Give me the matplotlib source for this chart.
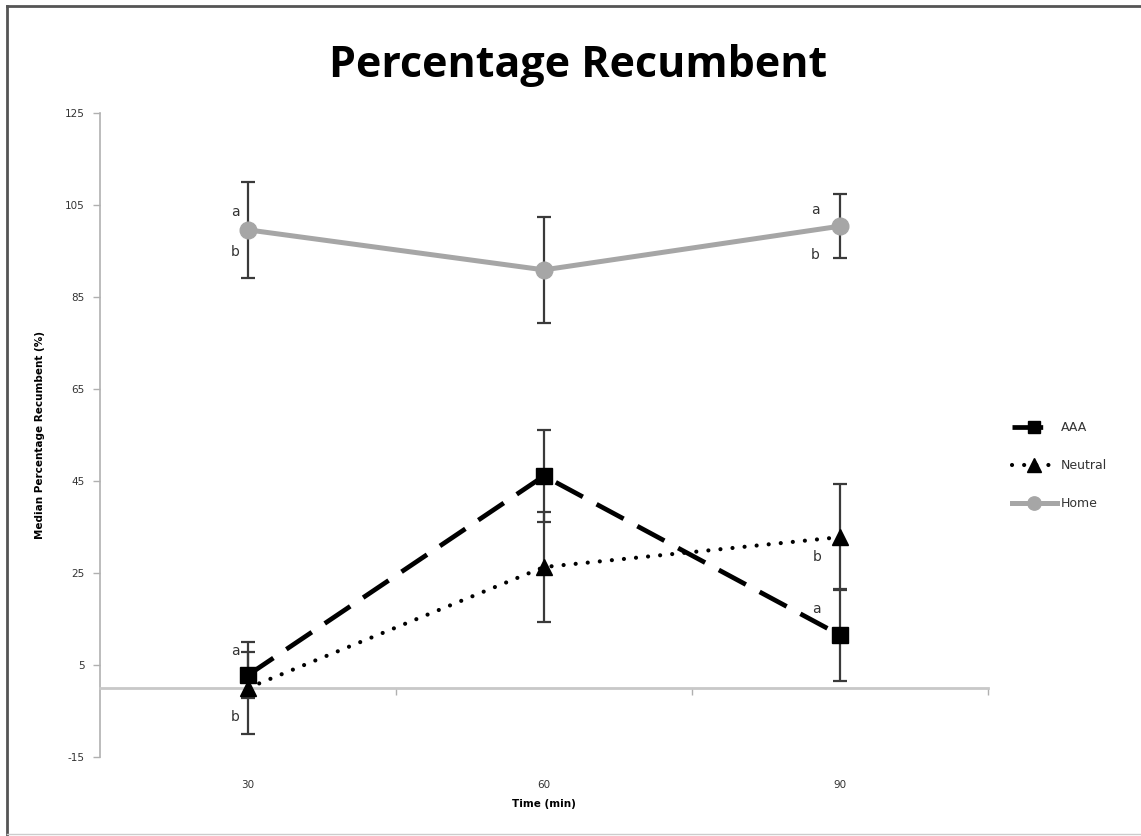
import numpy as np
import matplotlib
matplotlib.use('Agg')
import matplotlib.pyplot as plt
from matplotlib.lines import Line2D
from matplotlib.ticker import FixedLocator

plt.rcParams['axes.unicode_minus'] = False

# Time points (min) and medians / error sizes per group
times = [30, 60, 90]
aaa = [2.8, 46.1, 11.5]
aaa_err = [5.0, 10.0, 10.0]
neutral = [0.0, 26.3, 32.8]
neutral_err = [10.0, 12.0, 11.5]
home = [99.6, 90.9, 100.4]
home_err = [10.5, 11.6, 7.0]

# Significance letters: (x, y, letter)
letters = [(28.7, 103.5, 'a'), (28.7, 94.8, 'b'),
           (28.7, 8.0, 'a'), (28.7, -6.3, 'b'),
           (87.5, 103.9, 'a'), (87.5, 94.1, 'b'),
           (87.7, 28.5, 'b'), (87.6, 17.2, 'a')]

y_ticks = [-15, 5, 25, 45, 65, 85, 105, 125]

fig = plt.figure(figsize=(11.41, 8.36), dpi=100)
ax = fig.add_axes([0.0876, 0.0945, 0.7783, 0.7703])

err_kw = dict(fmt='none', ecolor='#3a3a3a', elinewidth=1.6, capsize=5, capthick=1.6, zorder=2)
ax.errorbar(times, home, yerr=home_err, **err_kw)
ax.errorbar(times, aaa, yerr=aaa_err, **err_kw)
ax.errorbar(times, neutral, yerr=neutral_err, **err_kw)

line_aaa, = ax.plot(times, aaa, color='black', lw=3.4, marker='s', markersize=11,
                    dashes=(6.5, 3.3), label='AAA', zorder=4)
line_neu, = ax.plot(times, neutral, color='black', lw=3.0, marker='^', markersize=12,
                    dashes=(0.01, 2.9), dash_capstyle='round', label='Neutral', zorder=4)
line_home, = ax.plot(times, home, color='#a6a6a6', lw=3.6, marker='o', markersize=12,
                     label='Home', zorder=3)

for x, y, s in letters:
    ax.text(x, y, s, fontsize=10, color='#333333', ha='center', va='center',
            family='DejaVu Sans')

ax.set_xlim(15, 105)
ax.set_ylim(-15, 125)
ax.set_yticks(y_ticks)
ax.set_xticks(times)
ax.xaxis.set_minor_locator(FixedLocator([45, 75, 105]))

# x axis sits on zero, labels pushed down to the bottom
ax.spines['bottom'].set_position(('data', 0))
ax.spines['bottom'].set_color('#c8c8c8')
ax.spines['bottom'].set_linewidth(2)
ax.spines['left'].set_color('#b0b0b0')
ax.spines['left'].set_linewidth(1.2)
ax.spines['top'].set_visible(False)
ax.spines['right'].set_visible(False)

ax.tick_params(axis='x', which='major', length=0, pad=66, labelsize=7.5, labelcolor='#333333')
ax.tick_params(axis='x', which='minor', length=5, width=1, color='#b0b0b0', direction='out')
ax.tick_params(axis='y', length=5, width=1, color='#b0b0b0', direction='out',
               labelsize=7.5, labelcolor='#333333', pad=6)

ax.set_xlabel('Time (min)', fontsize=7.5, fontweight='bold', labelpad=10)
ax.xaxis.set_label_coords(0.5, -0.065)
ax.set_ylabel('Median Percentage Recumbent (%)', fontsize=7.5, fontweight='bold')
ax.yaxis.set_label_coords(-0.062, 0.5)

fig.text(0.507, 0.922, 'Percentage Recumbent', fontsize=31, fontweight='bold',
         family='Open Sans', ha='center', va='center')

fig.legend(handles=[line_aaa, line_neu, line_home], loc='center left',
           bbox_to_anchor=(0.877, 0.4426), frameon=False, fontsize=9,
           handlelength=3.6, handletextpad=0.3, labelspacing=2.0, markerscale=0.8,
           labelcolor='#333333')

# chart border
fig.add_artist(Line2D([0.0065, 0.0065], [0.0, 0.993], transform=fig.transFigure,
                      color='#555555', lw=2))
fig.add_artist(Line2D([0.0065, 1.0], [0.993, 0.993], transform=fig.transFigure,
                      color='#555555', lw=2))
fig.add_artist(Line2D([0.0065, 1.0], [0.002, 0.002], transform=fig.transFigure,
                      color='#cccccc', lw=1))

fig.savefig('out.png', dpi=100)
